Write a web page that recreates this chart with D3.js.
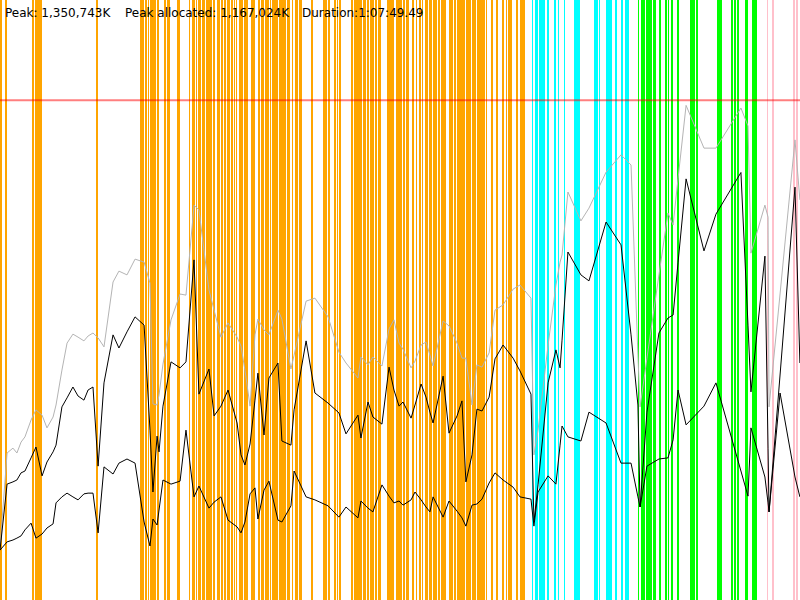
<!DOCTYPE html>
<html lang="en">
<head>
  <meta charset="UTF-8">
  <title>Heap usage timeline</title>
  <script src="https://d3js.org/d3.v7.min.js"></script>
  <style>
    body {
      margin: 0;
      background: #fff;
      font-family: "DejaVu Sans", sans-serif;
    }
    #chart {
      width: 800px;
      height: 600px;
    }
  </style>
</head>
<body>
  <div id="chart"></div>
  <script>
    // run summary shown in the header
    const peakText = 'Peak: 1,350,743K';
    const peakAllocText = 'Peak allocated: 1,167,024K';
    const durationText = 'Duration:1:07:49.49';
    const durationSec = 4069.49;
    const heapLimitMB = 1333;
    const yMaxMB = 1600;

    // sample times (seconds) shared by the three memory series
    const sampleTimes = [0, 36, 66, 86, 107, 127, 158, 183, 214, 239, 270, 285, 315, 341, 371, 397, 427, 448, 473, 499,
      529, 575, 605, 646, 687, 733, 763, 778, 799, 809, 829, 870, 916, 946, 987, 1012, 1063, 1089, 1124, 1160,
      1206, 1226, 1246, 1272, 1297, 1312, 1343, 1368, 1414, 1434, 1480, 1496, 1557, 1602, 1669, 1724, 1760, 1821, 1836, 1872,
      1897, 1943, 1979, 2004, 2030, 2050, 2091, 2111, 2142, 2167, 2187, 2203, 2254, 2284, 2325, 2350, 2370, 2401, 2426, 2452,
      2488, 2518, 2559, 2610, 2645, 2701, 2716, 2737, 2788, 2828, 2849, 2859, 2889, 2955, 2996, 3083, 3159, 3210, 3245, 3256,
      3291, 3352, 3398, 3424, 3449, 3490, 3581, 3642, 3769, 3805, 3820, 3891, 3907, 3912, 3968, 4044, 4069];

    // committed heap (MB) - grey line
    const committedMB = [139, 392, 405, 392, 421, 435, 480, 507, 493, 459, 488, 520, 613, 685, 709, 701, 691, 704, 712, 699,
      675, 848, 877, 867, 909, 901, 845, 523, 520, 547, 629, 747, 816, 813, 1053, 1040, 827, 773, 701, 739,
      701, 677, 613, 517, 707, 749, 720, 707, 773, 749, 616, 653, 797, 805, 755, 661, 632, 592, 648, 627,
      648, 624, 723, 747, 685, 669, 619, 637, 680, 688, 653, 624, 744, 731, 685, 645, 645, 520, 627, 621,
      659, 773, 787, 829, 840, 805, 387, 453, 680, 840, 901, 920, 1088, 1011, 1045, 1141, 1187, 1160, 653, 515,
      645, 867, 1032, 1000, 1123, 1319, 1205, 1205, 1312, 1264, 925, 1053, 1021, 515, 816, 1227, 1067];

    // allocated heap before collection (MB) - upper black line
    const usedHighMB = [133, 309, 315, 320, 339, 344, 379, 408, 331, 368, 395, 413, 515, 539, 568, 544, 533, 560, 568, 357,
      579, 707, 672, 715, 755, 733, 453, 288, 437, 395, 517, 635, 619, 635, 907, 549, 616, 491, 517, 560,
      472, 387, 360, 416, 533, 605, 440, 592, 632, 424, 413, 507, 691, 552, 525, 499, 443, 493, 432, 528,
      488, 469, 621, 560, 517, 528, 485, 520, 576, 541, 501, 472, 597, 445, 491, 531, 315, 387, 509, 504,
      541, 643, 680, 645, 611, 549, 208, 307, 579, 667, 619, 693, 928, 867, 851, 1008, 947, 707, 520, 248,
      501, 712, 752, 760, 899, 1123, 931, 1029, 1140, 733, 555, 917, 405, 235, 600, 1101, 632];

    // live heap after collection (MB) - lower black line
    const usedLowMB = [133, 155, 160, 165, 171, 187, 205, 165, 176, 192, 203, 259, 275, 285, 275, 267, 283, 285, 285, 179,
      355, 336, 365, 376, 365, 208, 144, 216, 200, 240, 320, 309, 317, 453, 275, 304, 245, 261, 275, 213,
      195, 179, 208, 283, 299, 216, 293, 317, 213, 208, 251, 344, 275, 267, 251, 221, 248, 219, 264, 245,
      235, 307, 277, 259, 264, 253, 267, 288, 267, 248, 235, 275, 221, 264, 237, 219, 197, 253, 256, 269,
      312, 339, 320, 301, 275, 269, 197, 288, 331, 309, 413, 464, 435, 424, 501, 472, 365, 365, 275, 248,
      357, 376, 379, 427, 560, 467, 517, 579, 344, 277, 459, 328, 259, 235, 552, 328, 275];

    // collection events as [start, end] seconds, one list per collector phase
    const orangeSpans = [[0, 9], [25, 34], [163, 171], [176, 182], [185, 214], [488, 497],
      [712, 734], [739, 746], [753, 759], [763, 782], [785, 796], [800, 811], [834, 843], [847, 865], [899, 916],
      [960, 968], [975, 992], [996, 1004], [1007, 1022], [1026, 1043], [1046, 1080], [1085, 1095], [1104, 1119],
      [1123, 1136], [1139, 1151], [1155, 1170], [1174, 1184], [1190, 1194], [1198, 1207], [1217, 1236], [1240, 1263],
      [1277, 1297], [1311, 1324], [1328, 1343], [1347, 1367], [1371, 1380], [1384, 1387], [1390, 1416], [1421, 1433],
      [1437, 1455], [1458, 1475], [1484, 1492], [1501, 1516], [1519, 1535], [1582, 1592], [1642, 1662], [1666, 1679],
      [1698, 1709], [1713, 1721], [1724, 1735], [1786, 1794], [1799, 1820], [1823, 1830], [1833, 1843], [1847, 1860],
      [1867, 1877], [1884, 1904], [1908, 1916], [1921, 1938], [1969, 2006], [2013, 2023], [2027, 2047], [2052, 2062],
      [2064, 2082], [2096, 2106], [2116, 2123], [2130, 2143], [2146, 2153], [2164, 2177], [2184, 2196], [2201, 2211],
      [2214, 2225], [2227, 2238], [2242, 2269], [2283, 2306], [2310, 2320], [2326, 2365], [2368, 2396], [2400, 2421],
      [2424, 2450], [2453, 2467], [2470, 2479], [2496, 2506], [2523, 2533], [2554, 2564], [2574, 2581], [2586, 2603],
      [2625, 2635], [2645, 2672]];
    const cyanSpans = [[2706, 2713], [2721, 2738], [2742, 2772], [2783, 2793], [2817, 2827], [2837, 2844], [2868, 2874],
      [2921, 2952], [3020, 3040], [3047, 3054], [3084, 3115], [3129, 3139], [3159, 3169], [3179, 3200]];
    const greenSpans = [[3244, 3251], [3263, 3281], [3284, 3299], [3302, 3317], [3322, 3337], [3351, 3364], [3381, 3391],
      [3396, 3404], [3411, 3421], [3442, 3452], [3512, 3535], [3541, 3553], [3647, 3671], [3717, 3729], [3734, 3743],
      [3748, 3759], [3790, 3804], [3827, 3851]];
    const pinkSpans = [[3902, 3909], [3926, 3936], [4034, 4044], [4051, 4058]];

    const width = 800;
    const height = 600;

    const svg = d3.select('#chart')
      .append('svg')
      .attr('width', width)
      .attr('height', height);

    const x = d3.scaleLinear().domain([0, durationSec]).range([0, width]);
    const y = d3.scaleLinear().domain([0, yMaxMB]).range([height, 0]);

    const spanGroups = [
      { spans: orangeSpans, color: '#ffa500' },
      { spans: cyanSpans, color: '#00ffff' },
      { spans: greenSpans, color: '#00ff00' },
      { spans: pinkSpans, color: '#ffc0cb' }
    ];

    // crisp edges so the event stripes come out as solid pixel columns
    spanGroups.forEach(g => {
      svg.append('g')
        .attr('shape-rendering', 'crispEdges')
        .selectAll('rect')
        .data(g.spans)
        .join('rect')
          .attr('x', d => x(d[0]))
          .attr('y', 0)
          .attr('width', d => Math.max(1, x(d[1]) - x(d[0])))
          .attr('height', height)
          .attr('fill', g.color);
    });

    // heap limit
    svg.append('line')
      .attr('x1', 0)
      .attr('x2', width)
      .attr('y1', y(heapLimitMB))
      .attr('y2', y(heapLimitMB))
      .attr('stroke', '#ff0000')
      .attr('stroke-opacity', 0.5)
      .attr('stroke-width', 2);

    const series = [
      { values: committedMB, color: '#b4b4b4' },
      { values: usedHighMB, color: '#000' },
      { values: usedLowMB, color: '#000' }
    ];

    const line = d3.line()
      .x((d, i) => x(sampleTimes[i]))
      .y(d => y(d));

    svg.selectAll('path.series')
      .data(series)
      .join('path')
        .attr('class', 'series')
        .attr('d', s => line(s.values))
        .attr('fill', 'none')
        .attr('stroke', s => s.color)
        .attr('stroke-width', 1);

    const header = [
      { text: peakText, x: 5 },
      { text: peakAllocText, x: 125 },
      { text: durationText, x: 302 }
    ];
    svg.selectAll('text.header')
      .data(header)
      .join('text')
        .attr('class', 'header')
        .attr('x', d => d.x)
        .attr('y', 17)
        .style('font-family', '"DejaVu Sans", sans-serif')
        .style('font-size', '12px')
        .attr('fill', '#000')
        .text(d => d.text);
  </script>
</body>
</html>
